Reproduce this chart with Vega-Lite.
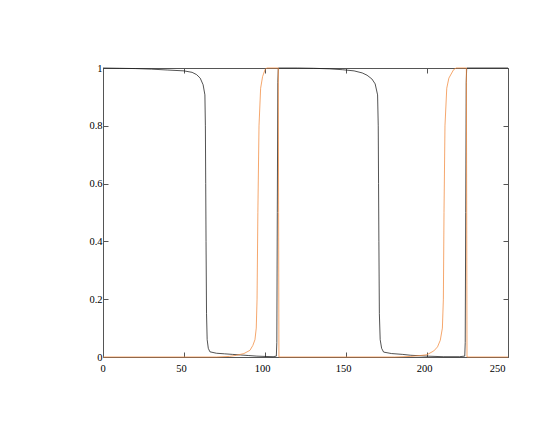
{
  "$schema": "https://vega.github.io/schema/vega-lite/v6.json",
  "width": 405,
  "height": 289,
  "autosize": {"type": "none"},
  "padding": {"left": 103, "top": 68, "right": 37, "bottom": 64},
  "background": "white",
  "config": {
    "view": {"stroke": null},
    "axis": {"labelFont": "Liberation Serif, Times New Roman, DejaVu Serif, serif", "labelFontSize": 10.5, "labelColor": "black", "domainColor": "#555555", "tickColor": "#555555", "domainWidth": 1, "tickWidth": 1, "grid": false}
  },
  "data": {"values": [
    {"s": "a", "x": 0, "y": 1.0},
    {"s": "a", "x": 10, "y": 0.999},
    {"s": "a", "x": 20, "y": 0.998},
    {"s": "a", "x": 30, "y": 0.996},
    {"s": "a", "x": 40, "y": 0.993},
    {"s": "a", "x": 50, "y": 0.99},
    {"s": "a", "x": 55, "y": 0.985},
    {"s": "a", "x": 57.8, "y": 0.977},
    {"s": "a", "x": 60, "y": 0.965},
    {"s": "a", "x": 61.8, "y": 0.942},
    {"s": "a", "x": 62.9, "y": 0.907},
    {"s": "a", "x": 63.2, "y": 0.8},
    {"s": "a", "x": 63.4, "y": 0.6},
    {"s": "a", "x": 63.6, "y": 0.4},
    {"s": "a", "x": 63.9, "y": 0.15},
    {"s": "a", "x": 64.3, "y": 0.06},
    {"s": "a", "x": 65, "y": 0.03},
    {"s": "a", "x": 66, "y": 0.018},
    {"s": "a", "x": 70, "y": 0.013},
    {"s": "a", "x": 75, "y": 0.011},
    {"s": "a", "x": 80, "y": 0.009},
    {"s": "a", "x": 85, "y": 0.007},
    {"s": "a", "x": 90, "y": 0.005},
    {"s": "a", "x": 95, "y": 0.003},
    {"s": "a", "x": 100, "y": 0.002},
    {"s": "a", "x": 105, "y": 0.001},
    {"s": "a", "x": 107, "y": 0.003},
    {"s": "a", "x": 107.3, "y": 0.05},
    {"s": "a", "x": 107.6, "y": 0.5},
    {"s": "a", "x": 107.9, "y": 0.95},
    {"s": "a", "x": 108.2, "y": 1.0},
    {"s": "a", "x": 120, "y": 1.0},
    {"s": "a", "x": 130, "y": 0.999},
    {"s": "a", "x": 140, "y": 0.997},
    {"s": "a", "x": 148, "y": 0.994},
    {"s": "a", "x": 155, "y": 0.99},
    {"s": "a", "x": 160, "y": 0.983},
    {"s": "a", "x": 163, "y": 0.975},
    {"s": "a", "x": 166, "y": 0.962},
    {"s": "a", "x": 168, "y": 0.945},
    {"s": "a", "x": 169.5, "y": 0.907},
    {"s": "a", "x": 169.9, "y": 0.8},
    {"s": "a", "x": 170.1, "y": 0.6},
    {"s": "a", "x": 170.3, "y": 0.4},
    {"s": "a", "x": 170.6, "y": 0.15},
    {"s": "a", "x": 171.1, "y": 0.06},
    {"s": "a", "x": 172, "y": 0.03},
    {"s": "a", "x": 173.2, "y": 0.017},
    {"s": "a", "x": 178, "y": 0.012},
    {"s": "a", "x": 185, "y": 0.009},
    {"s": "a", "x": 190, "y": 0.006},
    {"s": "a", "x": 200, "y": 0.003},
    {"s": "a", "x": 210, "y": 0.001},
    {"s": "a", "x": 220, "y": 0.001},
    {"s": "a", "x": 223.3, "y": 0.003},
    {"s": "a", "x": 223.6, "y": 0.05},
    {"s": "a", "x": 223.9, "y": 0.5},
    {"s": "a", "x": 224.2, "y": 0.95},
    {"s": "a", "x": 224.5, "y": 1.0},
    {"s": "a", "x": 250, "y": 1.0},
    {"s": "b", "x": 0, "y": 0},
    {"s": "b", "x": 70, "y": 0},
    {"s": "b", "x": 78, "y": 0.002},
    {"s": "b", "x": 82.5, "y": 0.006},
    {"s": "b", "x": 87, "y": 0.012},
    {"s": "b", "x": 90.7, "y": 0.023},
    {"s": "b", "x": 92.5, "y": 0.04},
    {"s": "b", "x": 93.8, "y": 0.06},
    {"s": "b", "x": 94.6, "y": 0.1},
    {"s": "b", "x": 95.1, "y": 0.2},
    {"s": "b", "x": 95.6, "y": 0.5},
    {"s": "b", "x": 96.3, "y": 0.8},
    {"s": "b", "x": 97.3, "y": 0.93},
    {"s": "b", "x": 98.5, "y": 0.97},
    {"s": "b", "x": 100, "y": 0.994},
    {"s": "b", "x": 101, "y": 1.0},
    {"s": "b", "x": 108.2, "y": 1.0},
    {"s": "b", "x": 108.4, "y": 0.5},
    {"s": "b", "x": 108.6, "y": 0},
    {"s": "b", "x": 180, "y": 0},
    {"s": "b", "x": 190, "y": 0.002},
    {"s": "b", "x": 196, "y": 0.005},
    {"s": "b", "x": 200, "y": 0.008},
    {"s": "b", "x": 204.2, "y": 0.021},
    {"s": "b", "x": 206.5, "y": 0.035},
    {"s": "b", "x": 208.2, "y": 0.058},
    {"s": "b", "x": 209.5, "y": 0.1},
    {"s": "b", "x": 210.1, "y": 0.2},
    {"s": "b", "x": 210.5, "y": 0.5},
    {"s": "b", "x": 211.1, "y": 0.8},
    {"s": "b", "x": 212.2, "y": 0.93},
    {"s": "b", "x": 213.5, "y": 0.965},
    {"s": "b", "x": 216.4, "y": 0.994},
    {"s": "b", "x": 218, "y": 1.0},
    {"s": "b", "x": 224.3, "y": 1.0},
    {"s": "b", "x": 224.5, "y": 0.5},
    {"s": "b", "x": 224.7, "y": 0},
    {"s": "b", "x": 250, "y": 0}
  ]},
  "layer": [
    {
      "mark": {"type": "line", "strokeWidth": 0.75},
      "encoding": {
        "x": {"field": "x", "type": "quantitative", "scale": {"domain": [0, 250], "nice": false, "zero": false},
              "axis": {"orient": "bottom", "values": [0, 50, 100, 150, 200, 250], "tickSize": -5, "labelPadding": 11, "labelAngle": 0, "labelOffset": -3, "title": null}},
        "y": {"field": "y", "type": "quantitative", "scale": {"domain": [0, 1], "nice": false},
              "axis": {"orient": "left", "values": [0, 0.2, 0.4, 0.6, 0.8, 1], "format": "~g", "tickSize": -5, "labelPadding": 6, "title": null}},
        "color": {"field": "s", "type": "nominal", "scale": {"domain": ["a", "b"], "range": ["#1a1a1a", "#F28A3C"]}, "legend": null}
      }
    },
    {
      "mark": {"type": "line", "opacity": 0},
      "encoding": {
        "x": {"field": "x", "type": "quantitative", "axis": {"orient": "top", "values": [0, 50, 100, 150, 200, 250], "tickSize": -5, "labels": false, "title": null}},
        "y": {"field": "y", "type": "quantitative", "axis": {"orient": "right", "values": [0, 0.2, 0.4, 0.6, 0.8, 1], "tickSize": -5, "labels": false, "title": null}}
      }
    }
  ],
  "resolve": {"axis": {"x": "independent", "y": "independent"}}
}
